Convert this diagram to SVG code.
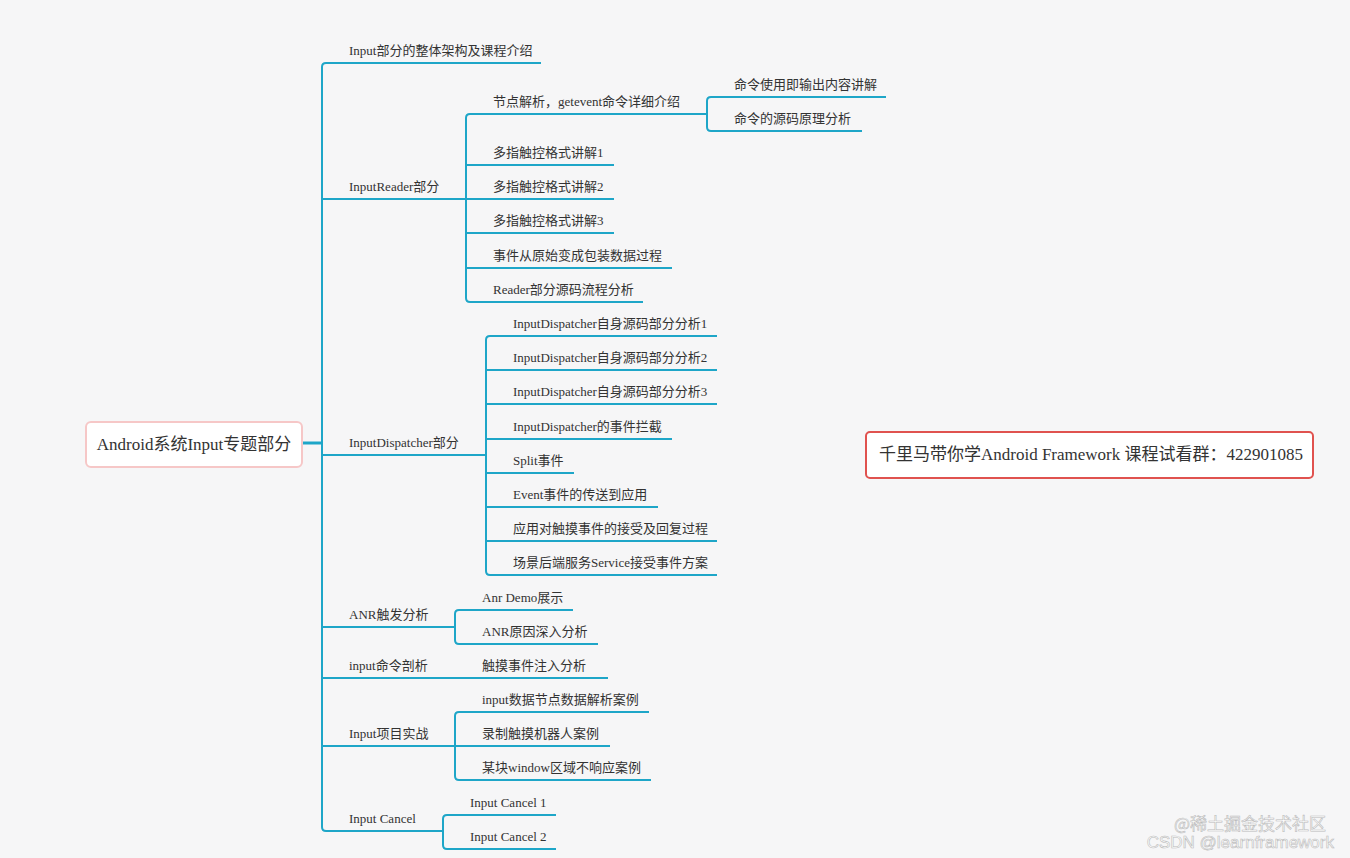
<svg xmlns="http://www.w3.org/2000/svg" width="1350" height="858" viewBox="0 0 1350 858">
<style>
.l{fill:none;stroke:#1ea6c8;stroke-width:2;stroke-linejoin:round}
.t{font-family:"Liberation Serif","Noto Sans CJK SC",serif;font-size:13px;fill:#333}
</style>
<rect width="1350" height="858" fill="#f6f6f7"/>
<g id="connectors" class="l">
<path d="M302,443 H322" stroke-width="3"/>
<path d="M541,63 H326 Q322,63 322,67 V827 Q322,831 326,831 H443"/>
<path d="M322,199 H466"/><path d="M322,455 H486"/><path d="M322,627 H455"/><path d="M322,678 H608"/><path d="M322,746 H455"/>
<path d="M707,114 H470 Q466,114 466,118 V298 Q466,302 470,302 H643"/>
<path d="M466,165 H614 M466,199 H614 M466,233 H614 M466,268 H672"/>
<path d="M886,97 H711 Q707,97 707,101 V127 Q707,131 711,131 H862"/>
<path d="M717,336 H490 Q486,336 486,340 V571 Q486,575 490,575 H717"/>
<path d="M486,370 H717 M486,404 H717 M486,439 H672 M486,473 H574 M486,507 H658 M486,541 H717"/>
<path d="M573,610 H459 Q455,610 455,614 V640 Q455,644 459,644 H598"/>
<path d="M649,712 H459 Q455,712 455,716 V776 Q455,780 459,780 H651"/>
<path d="M455,746 H610"/>
<path d="M556,815 H447 Q443,815 443,819 V845 Q443,849 447,849 H556"/>
</g>
<g id="root"><rect x="86" y="422" width="216" height="45" rx="5" fill="#fff" stroke="#f6c7c7" stroke-width="2"/><text x="194" y="450" text-anchor="middle" class="t" style="font-size:17px">Android系统Input专题部分</text></g>
<g id="note"><rect x="866" y="432" width="447" height="46" rx="4" fill="#fff" stroke="#e0524f" stroke-width="2"/><text x="1091" y="460" text-anchor="middle" class="t" style="font-size:17px">千里马带你学Android Framework 课程试看群：422901085</text></g>
<g id="n1"><text x="349" y="55" class="t">Input部分的整体架构及课程介绍</text></g>
<g id="n2"><text x="349" y="191" class="t">InputReader部分</text></g>
<g id="n3"><text x="349" y="447" class="t">InputDispatcher部分</text></g>
<g id="n4"><text x="349" y="619" class="t">ANR触发分析</text></g>
<g id="n5"><text x="349" y="670" class="t">input命令剖析</text></g>
<g id="n6"><text x="349" y="738" class="t">Input项目实战</text></g>
<g id="n7"><text x="349" y="823" class="t">Input Cancel</text></g>
<g id="r1"><text x="493" y="106" class="t">节点解析，getevent命令详细介绍</text></g>
<g id="r1a"><text x="734" y="89" class="t">命令使用即输出内容讲解</text></g>
<g id="r1b"><text x="734" y="123" class="t">命令的源码原理分析</text></g>
<g id="r2"><text x="493" y="157" class="t">多指触控格式讲解1</text></g>
<g id="r3"><text x="493" y="191" class="t">多指触控格式讲解2</text></g>
<g id="r4"><text x="493" y="225" class="t">多指触控格式讲解3</text></g>
<g id="r5"><text x="493" y="260" class="t">事件从原始变成包装数据过程</text></g>
<g id="r6"><text x="493" y="294" class="t">Reader部分源码流程分析</text></g>
<g id="d1"><text x="513" y="328" class="t">InputDispatcher自身源码部分分析1</text></g>
<g id="d2"><text x="513" y="362" class="t">InputDispatcher自身源码部分分析2</text></g>
<g id="d3"><text x="513" y="396" class="t">InputDispatcher自身源码部分分析3</text></g>
<g id="d4"><text x="513" y="431" class="t">InputDispatcher的事件拦截</text></g>
<g id="d5"><text x="513" y="465" class="t">Split事件</text></g>
<g id="d6"><text x="513" y="499" class="t">Event事件的传送到应用</text></g>
<g id="d7"><text x="513" y="533" class="t">应用对触摸事件的接受及回复过程</text></g>
<g id="d8"><text x="513" y="567" class="t">场景后端服务Service接受事件方案</text></g>
<g id="a1"><text x="482" y="602" class="t">Anr Demo展示</text></g>
<g id="a2"><text x="482" y="636" class="t">ANR原因深入分析</text></g>
<g id="c1"><text x="482" y="670" class="t">触摸事件注入分析</text></g>
<g id="p1"><text x="482" y="704" class="t">input数据节点数据解析案例</text></g>
<g id="p2"><text x="482" y="738" class="t">录制触摸机器人案例</text></g>
<g id="p3"><text x="482" y="772" class="t">某块window区域不响应案例</text></g>
<g id="k1"><text x="470" y="807" class="t">Input Cancel 1</text></g>
<g id="k2"><text x="470" y="841" class="t">Input Cancel 2</text></g>
<text x="1326" y="830" text-anchor="end" style="font-family:'Noto Sans CJK SC',sans-serif;font-size:17px;fill:#fff;stroke:#bbb;stroke-width:0.6">@稀土掘金技术社区</text>
<text x="1334" y="848" text-anchor="end" style="font-family:'Liberation Sans',sans-serif;font-size:17px;fill:#fff;stroke:#bbb;stroke-width:0.6">CSDN @learnframework</text>
</svg>
